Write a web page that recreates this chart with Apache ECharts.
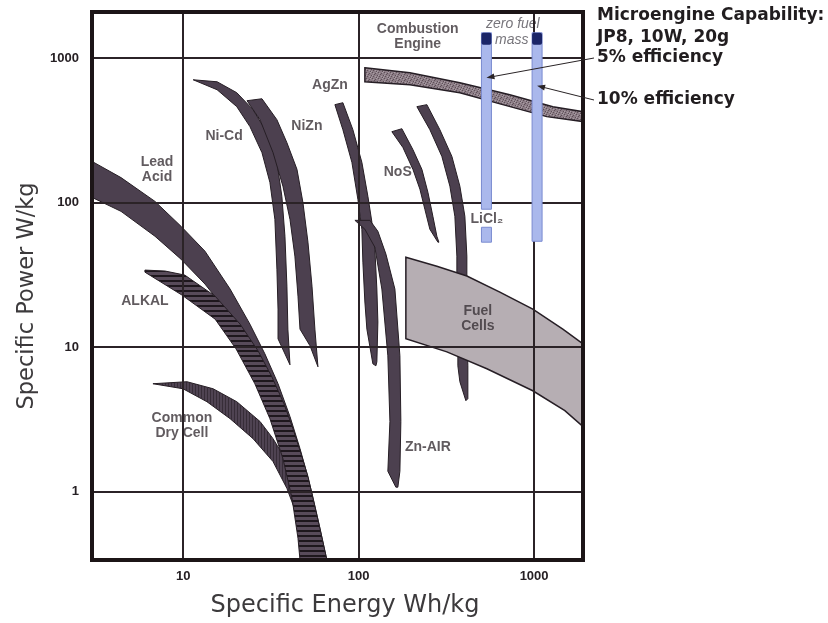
<!DOCTYPE html>
<html>
<head>
<meta charset="utf-8">
<script src="https://cdn.jsdelivr.net/npm/echarts@6/dist/echarts.min.js"></script>
<style>
  html, body { margin: 0; padding: 0; background: #ffffff; }
  #chart { width: 828px; height: 623px; }
</style>
</head>
<body>
<div id="chart"></div>
<script>
// Ragone plot: specific power vs specific energy of power sources

const energyTicks = [10, 100, 1000];
const powerTicks = [1, 10, 100, 1000];

// Each region is outlined by two edges of [energy Wh/kg, power W/kg] points
const leadAcidUpper = [[3.02,193],[4.42,149],[6.90,102],[9.71,68.6],[13.3,46.1],[18.5,25.2],[24.0,14.4],[29.2,8.97],[34.7,5.57],[40.6,3.30],[46.3,1.98],[50.7,1.33],[54.2,0.970],[59.3,0.602],[65.9,0.335]];
const leadAcidLower = [[3.02,108.7],[4.42,87.0],[6.90,58.5],[9.71,40.6],[13.3,27.3],[17.3,18.3],[22.5,11.4],[28.1,7.07],[33.8,3.74],[39.5,1.98],[45.1,0.896],[48.8,0.474],[50.1,0.335]];

const alkalUpper = [[6.05,34.1],[7.87,33.6],[10.2,31.5],[15.2,22.5],[21.1,14.4],[26.7,9.41],[32.0,6.22],[37.5,4.05],[42.2,2.72],[46.9,1.83],[51.4,1.27],[54.9,0.896],[60.1,0.556],[65.9,0.335]];
const alkalLower = [[6.05,33.0],[9.83,22.9],[15.2,15.6],[20.0,9.71],[25.6,5.57],[31.2,3.19],[37.0,1.69],[41.7,0.896],[45.1,0.474],[46.3,0.335]];

const dryCellUpper = [[6.72,5.57],[10.5,5.75],[14.8,5.14],[20.2,4.18],[27.4,3.05],[32.5,2.32],[39.0,1.61],[44.5,1.05],[48.1,0.684],[51.4,0.452],[52.8,0.335]];
const dryCellLower = [[6.72,5.57],[9.97,5.14],[13.65,4.18],[18.5,3.19],[25.0,2.32],[32.5,1.61],[39.0,1.05],[44.5,0.684],[47.5,0.452],[48.1,0.335]];

const niCdUpper = [[11.4,709],[15.6,687],[20.2,577],[25.0,440],[30.0,305],[34.2,190],[36.5,110.5],[38.0,58.5],[39.0,26.4],[39.5,13.3],[40.6,7.53]];
const niCdLower = [[11.4,709],[15.6,605],[20.2,462],[24.0,336],[28.1,222],[31.2,138],[33.3,76.6],[34.2,34.6],[34.7,18.3],[34.7,11.4]];

const niZnUpper = [[23.1,508],[28.1,524],[34.2,375],[39.0,260],[44.5,170],[48.1,100.4],[51.4,53.2],[54.2,26.4],[56.3,13.3],[58.6,7.30]];
const niZnLower = [[23.1,508],[27.4,375],[32.5,222],[37.0,130],[40.6,76.6],[43.3,42.6],[45.1,22.5],[46.3,13.3],[52.8,10.2]];

const agZnUpper = [[81.3,492],[92.7,320],[104.3,190],[112.9,110.5],[119.0,73.1],[123.7,47.6],[127.0,25.2],[128.7,14.9],[127.0,7.90],[125.4,7.41]];
const agZnLower = [[73.2,477],[81.3,320],[91.5,190],[99.0,105.3],[104.3,65.4],[105.7,38.7],[108.5,20.5],[111.4,13.3],[120.5,7.65]];

const znAirRight = [[115.9,75.4],[128.7,63.3],[143.0,44.0],[160.9,25.2],[171.8,8.69],[174.0,3.05],[171.8,1.38],[167.3,1.07]];
const znAirLeft = [[95.2,75.4],[108.5,65.4],[123.7,49.1],[135.6,25.2],[146.7,8.69],[150.7,3.05],[146.7,1.38],[163.0,1.07]];

const noSUpper = [[176.3,325],[203.8,233],[229.3,170],[248.1,118],[264.9,80.4],[279.1,58.5],[286.6,53.2]];
const noSLower = [[154.6,310],[178.7,241],[203.8,170],[223.4,124],[238.5,89.8],[254.6,65.4],[282.9,53.2]];

const noS2Upper = [[244.8,477],[290.3,320],[339.9,209],[377.5,130],[403.1,80.4],[413.8,42.6],[413.8,22.5],[413.8,13.3],[419.3,7.41],[419.3,4.39]];
const noS2Lower = [[214.7,462],[254.6,320],[298.0,209],[331.1,130],[353.5,80.4],[362.9,42.6],[362.9,22.5],[367.7,13.3],[367.7,7.41],[377.5,5.75],[408.4,4.25]];

const fuelCellUpper = [[185.8,41.9],[279.1,36.3],[413.8,31.0],[638,24.0],[983,18.3],[1458,13.3],[1900,10.5]];
const fuelCellLower = [[185.8,11.4],[318.3,9.26],[538,7.07],[983,4.98],[1497,3.63],[1900,2.81]];

const combustionUpper = [[108.5,858],[195.9,793],[377.5,676],[727,559],[1279,462],[1900,426]];
const combustionLower = [[108.5,687],[195.9,655],[377.5,577],[663,477],[1182,394],[1900,364]];

// Microengine columns (5% and 10% efficiency): energy, top, bottom, cap bottom
const microEnergy = [535, 1040];
const microTop = [1500, 1500];
const microBottom = [90, 54];
const microCapBottom = [1240, 1240];
// LiCl2 block under the 5% column: energy, top, bottom
const liclBlock = [535, 67.5, 53.2];

// Region names and their anchor points [energy, power]
const regionLabels = ['Combustion\nEngine', 'AgZn', 'NiZn', 'Ni-Cd', 'Lead\nAcid', 'NoS', 'LiCl\u2082', 'ALKAL', 'Fuel\nCells', 'Common\nDry Cell', 'Zn-AIR'];
const regionLabelEnergy = [217, 68.6, 50.7, 17.1, 7.09, 167, 538, 6.05, 478, 9.83, 248];
const regionLabelPower = [1404, 655, 336, 287, 170, 162, 76.6, 20.8, 15.6, 2.86, 2.01];
const zeroFuelLabels = ['zero fuel', 'mass'];
const zeroFuelEnergy = [757, 746];
const zeroFuelPower = [1726, 1339];

// Side notes
const noteLines = ['Microengine Capability:', 'JP8, 10W, 20g', '5% efficiency', '10% efficiency'];
// where the efficiency arrows touch each column (power, W/kg)
const arrowPower = [732, 645];

// ---------- fills ----------
function stripeCanvas(base, line, w, h, horizontal, lw) {
  const c = document.createElement('canvas');
  c.width = w; c.height = h;
  const g = c.getContext('2d');
  g.fillStyle = base; g.fillRect(0, 0, w, h);
  g.fillStyle = line;
  if (horizontal) g.fillRect(0, 0, w, lw); else g.fillRect(0, 0, lw, h);
  return c;
}
function speckleCanvas() {
  const c = document.createElement('canvas');
  c.width = 6; c.height = 6;
  const g = c.getContext('2d');
  g.fillStyle = '#8c7d86'; g.fillRect(0, 0, 6, 6);
  g.fillStyle = '#5e4f58';
  [[0,0],[3,1],[5,3],[1,4],[4,5],[2,2]].forEach(p => g.fillRect(p[0], p[1], 1, 1));
  g.fillStyle = '#a99ea5';
  [[1,1],[4,0],[0,3],[3,4],[5,5]].forEach(p => g.fillRect(p[0], p[1], 1, 1));
  return c;
}

const BAND = '#4c404f';
const EDGE = '#261e25';
const fills = {
  plain: BAND,
  alkal: { image: stripeCanvas('#584b5a', '#1e171d', 4, 5, true, 2), repeat: 'repeat' },
  dry: { image: stripeCanvas('#4f4352', '#372d38', 3, 4, false, 1), repeat: 'repeat' },
  comb: { image: speckleCanvas(), repeat: 'repeat' },
  fuel: '#b6aeb3'
};

function region(name, upper, lower, fill, lw) {
  const pts = upper.concat(lower.slice().reverse());
  return {
    type: 'custom',
    name: name,
    coordinateSystem: 'cartesian2d',
    z: 2,
    silent: true,
    data: [pts[0]],
    encode: { x: 0, y: 1 },
    renderItem: function (params, api) {
      return {
        type: 'polygon',
        shape: { points: pts.map(p => api.coord(p)) },
        style: { fill: fill, stroke: EDGE, lineWidth: lw || 1 }
      };
    }
  };
}

const isDecade = v => Math.abs(Math.log10(v) - Math.round(Math.log10(v))) < 1e-6;

const chart = echarts.init(document.getElementById('chart'), null, { renderer: 'canvas' });

const labelData = regionLabels.map((t, i) => ({ name: t, value: [regionLabelEnergy[i], regionLabelPower[i]] }))
  .concat(zeroFuelLabels.map((t, i) => ({
    name: t, value: [zeroFuelEnergy[i], zeroFuelPower[i]],
    label: { fontStyle: 'italic', fontWeight: 'normal', fontSize: 14, color: '#55525a', fontFamily: 'Liberation Sans' }
  })));

const microData = microEnergy.map((e, i) => [e, microTop[i], microBottom[i], microCapBottom[i]]);

chart.setOption({
  animation: false,
  backgroundColor: '#ffffff',
  grid: {
    left: 92, right: 245, top: 12, bottom: 61,
    show: true, borderWidth: 4, borderColor: '#1c1517', backgroundColor: 'transparent', z: 10
  },
  xAxis: {
    type: 'log', logBase: 10, min: 3.02, max: 1900, z: 3,
    axisLine: { show: false }, axisTick: { show: false },
    splitLine: { show: true, lineStyle: { color: '#2b2327', width: 2 } },
    axisLabel: {
      showMinLabel: false, showMaxLabel: false,
      formatter: v => (isDecade(v) && energyTicks.indexOf(Math.round(v)) >= 0) ? String(Math.round(v)) : '',
      fontFamily: 'Liberation Sans', fontWeight: 'bold', fontSize: 13, color: '#262024', margin: 10
    },
    name: 'Specific Energy Wh/kg', nameLocation: 'middle', nameGap: 34,
    nameTextStyle: { fontFamily: 'DejaVu Sans', fontSize: 24, color: '#3c3a3c', padding: [0, 0, 0, 15] }
  },
  yAxis: {
    type: 'log', logBase: 10, min: 0.335, max: 2090, z: 3,
    axisLine: { show: false }, axisTick: { show: false },
    splitLine: { show: true, lineStyle: { color: '#2b2327', width: 2 } },
    axisLabel: {
      showMinLabel: false, showMaxLabel: false,
      formatter: v => (isDecade(v) && powerTicks.indexOf(Math.round(v)) >= 0) ? String(Math.round(v)) : '',
      fontFamily: 'Liberation Sans', fontWeight: 'bold', fontSize: 13, color: '#262024', margin: 13
    },
    name: 'Specific Power W/kg', nameLocation: 'middle', nameGap: 53,
    nameTextStyle: { fontFamily: 'DejaVu Sans', fontSize: 22.5, color: '#3c3a3c', padding: [0, 20, 0, 0] }
  },
  series: [
    region('Lead Acid', leadAcidUpper, leadAcidLower, fills.plain),
    region('Common Dry Cell', dryCellUpper, dryCellLower, fills.dry),
    region('ALKAL', alkalUpper, alkalLower, fills.alkal),
    region('Ni-Cd', niCdUpper, niCdLower, fills.plain),
    region('NiZn', niZnUpper, niZnLower, fills.plain),
    region('AgZn', agZnUpper, agZnLower, fills.plain),
    region('Zn-AIR', znAirRight, znAirLeft, fills.plain),
    region('NoS', noSUpper, noSLower, fills.plain),
    region('NoS outer', noS2Upper, noS2Lower, fills.plain),
    region('Fuel Cells', fuelCellUpper, fuelCellLower, fills.fuel, 1.5),
    region('Combustion Engine', combustionUpper, combustionLower, fills.comb, 1.5),
    {
      type: 'scatter', name: 'labels', z: 2, silent: true,
      symbolSize: 0, data: labelData,
      label: {
        show: true, position: 'inside', formatter: p => p.name,
        fontFamily: 'Liberation Sans', fontWeight: 'bold', fontSize: 14, lineHeight: 15, color: '#3a3237'
      }
    },
    {
      type: 'custom', name: 'Microengine', coordinateSystem: 'cartesian2d', z: 6, silent: true,
      data: microData, encode: { x: 0, y: [1, 2] },
      renderItem: function (params, api) {
        const e = api.value(0);
        const top = api.coord([e, api.value(1)]);
        const bot = api.coord([e, api.value(2)]);
        const cap = api.coord([e, api.value(3)]);
        const w = 10;
        return {
          type: 'group',
          children: [
            { type: 'rect', shape: { x: top[0] - w / 2, y: top[1], width: w, height: bot[1] - top[1] },
              style: { fill: '#aab8ec', stroke: '#7a8bd0', lineWidth: 1 } },
            { type: 'rect', shape: { x: top[0] - w / 2, y: top[1], width: w, height: cap[1] - top[1], r: 2 },
              style: { fill: '#1b2567' } }
          ]
        };
      }
    },
    {
      type: 'custom', name: 'LiCl2', coordinateSystem: 'cartesian2d', z: 6, silent: true,
      data: [liclBlock], encode: { x: 0, y: [1, 2] },
      renderItem: function (params, api) {
        const e = api.value(0);
        const top = api.coord([e, api.value(1)]);
        const bot = api.coord([e, api.value(2)]);
        return { type: 'rect', shape: { x: top[0] - 5, y: top[1], width: 10, height: bot[1] - top[1] },
          style: { fill: '#aab8ec', stroke: '#7a8bd0', lineWidth: 1 } };
      }
    }
  ]
});

// side notes and the efficiency arrows pointing to the columns
const noteFont = 'bold 17px "DejaVu Sans"';
const noteY = [16, 38, 58, 100];
const graphics = noteLines.map((t, i) => ({
  type: 'text', x: 597, y: noteY[i], z: 20,
  style: { text: t, font: noteFont, fill: '#211d1f', verticalAlign: 'middle', align: 'left' }
}));
[0, 1].forEach(i => {
  const tip = chart.convertToPixel({ gridIndex: 0 }, [microEnergy[i], arrowPower[i]]);
  const start = [594, noteY[i + 2]];
  const dx = tip[0] - start[0], dy = tip[1] - start[1];
  const len = Math.hypot(dx, dy);
  const ux = dx / len, uy = dy / len, nx = -uy, ny = ux;
  const L = 8, W = 3;
  graphics.push({
    type: 'line', z: 20,
    shape: { x1: start[0], y1: start[1], x2: tip[0] - ux * 5, y2: tip[1] - uy * 5 },
    style: { stroke: '#2a2426', lineWidth: 1 }
  });
  graphics.push({
    type: 'polygon', z: 20,
    shape: { points: [tip, [tip[0] - ux * L + nx * W, tip[1] - uy * L + ny * W], [tip[0] - ux * L - nx * W, tip[1] - uy * L - ny * W]] },
    style: { fill: '#2a2426' }
  });
});
chart.setOption({ graphic: graphics });
</script>
</body>
</html>
